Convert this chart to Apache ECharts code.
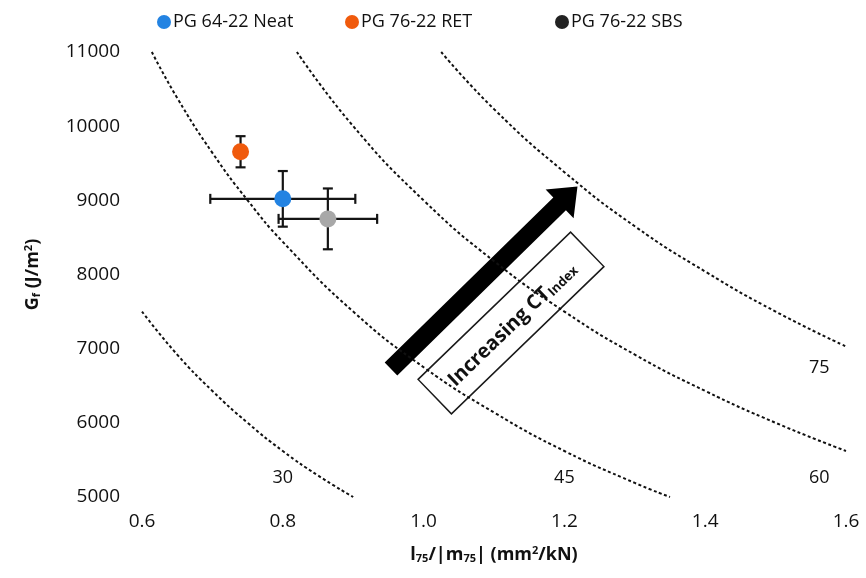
<!DOCTYPE html>
<html>
<head>
<meta charset="utf-8">
<script src="https://cdn.jsdelivr.net/npm/echarts@6/dist/echarts.min.js"></script>
<style>html,body{margin:0;padding:0;background:#fff}#c{width:866px;height:578px}</style>
</head>
<body>
<div id="c"></div>
<script>
// ---- data ----
const materials = ['PG 64-22 Neat', 'PG 76-22 RET', 'PG 76-22 SBS'];
const colors = ['#2383e2', '#f05a0c', '#a8a8a8'];
const legendIconColors = ['#2383e2', '#f05a0c', '#222222'];
const xMean = [0.800, 0.740, 0.864];
const yMean = [9020, 9655, 8750];
const xErr = [0.103, 0, 0.070];
const yErr = [375, 210, 410];

const yTicks = [5000, 6000, 7000, 8000, 9000, 10000, 11000];
const xTicks = [0.6, 0.8, 1.0, 1.2, 1.4, 1.6];

// CT-index contour curves
const curve30 = [[0.60, 7500], [0.65, 6920], [0.70, 6430], [0.75, 6000], [0.80, 5620], [0.85, 5290], [0.90, 5000]];
const curve45 = [[0.614, 11000], [0.65, 10380], [0.70, 9640], [0.75, 9000], [0.80, 8440], [0.90, 7500], [1.00, 6750], [1.10, 6140], [1.20, 5620], [1.30, 5190], [1.35, 5000]];
const curve60 = [[0.82, 11000], [0.90, 10000], [1.00, 9000], [1.10, 8180], [1.20, 7500], [1.30, 6920], [1.40, 6430], [1.50, 6000], [1.60, 5620]];
const curve75 = [[1.025, 11000], [1.10, 10230], [1.20, 9380], [1.30, 8650], [1.40, 8040], [1.50, 7500], [1.60, 7030]];
const curveLabels = ['30', '45', '60', '75'];
const curveLabelPos = [[0.80, 5260], [1.20, 5260], [1.562, 5260], [1.562, 6740]];

const FONT = '"Open Sans", "Liberation Sans", sans-serif';

const chart = echarts.init(document.getElementById('c'), null, {renderer: 'canvas'});

const series = [];
[curve30, curve45, curve60, curve75].forEach((c, i) => {
  series.push({
    type: 'line', name: 'ct' + curveLabels[i], data: c, smooth: true, showSymbol: false, silent: true,
    lineStyle: {color: '#111', width: 2, type: [3, 2.5]}, z: 1
  });
});
series.push({
  type: 'scatter', name: 'curveLabels', silent: true, symbolSize: 0,
  itemStyle: {opacity: 1, color: 'rgba(0,0,0,0)'},
  data: curveLabelPos.map((p, i) => ({value: p, name: curveLabels[i]})),
  label: {show: true, position: 'inside', formatter: p => p.name, fontSize: 18, color: '#111', fontFamily: FONT},
  z: 2
});
series.push({
  type: 'custom', name: 'errorbars', silent: true, z: 3,
  data: materials.map((m, i) => [xMean[i], yMean[i], xErr[i], yErr[i]]),
  encode: {x: 0, y: 1},
  renderItem: function (params, api) {
    const x = api.value(0), y = api.value(1), ex = api.value(2), ey = api.value(3);
    const st = {stroke: '#141414', lineWidth: 2.2};
    const cap = 5;
    const ch = [];
    if (ey > 0) {
      const t = api.coord([x, y + ey]), b = api.coord([x, y - ey]);
      ch.push({type: 'line', shape: {x1: t[0], y1: t[1], x2: b[0], y2: b[1]}, style: st});
      ch.push({type: 'line', shape: {x1: t[0] - cap, y1: t[1], x2: t[0] + cap, y2: t[1]}, style: st});
      ch.push({type: 'line', shape: {x1: b[0] - cap, y1: b[1], x2: b[0] + cap, y2: b[1]}, style: st});
    }
    if (ex > 0) {
      const l = api.coord([x - ex, y]), r = api.coord([x + ex, y]);
      ch.push({type: 'line', shape: {x1: l[0], y1: l[1], x2: r[0], y2: r[1]}, style: st});
      ch.push({type: 'line', shape: {x1: l[0], y1: l[1] - cap, x2: l[0], y2: l[1] + cap}, style: st});
      ch.push({type: 'line', shape: {x1: r[0], y1: r[1] - cap, x2: r[0], y2: r[1] + cap}, style: st});
    }
    return {type: 'group', children: ch};
  }
});
materials.forEach((m, i) => {
  series.push({
    type: 'scatter', name: m, data: [[xMean[i], yMean[i]]], symbol: 'circle', symbolSize: 17,
    itemStyle: {color: colors[i], opacity: 1}, z: 4
  });
});

const legendLefts = [152, 340, 550];
const legends = materials.map((m, i) => ({
  left: legendLefts[i], top: 8, itemWidth: 14, itemHeight: 14, itemGap: 0,
  icon: 'circle', selectedMode: false,
  data: [{name: m, itemStyle: {color: legendIconColors[i]}}],
  textStyle: {fontSize: 18, color: '#111', fontFamily: FONT, padding: [0, 0, 0, -3]}
}));

const arrowAngle = 44.4 * Math.PI / 180;
const boxAngle = 44.0 * Math.PI / 180;

chart.setOption({
  animation: false,
  backgroundColor: '#ffffff',
  legend: legends,
  grid: {left: 142, right: 20, top: 52, bottom: 81},
  xAxis: {
    type: 'value', min: 0.6, max: 1.6, interval: 0.2,
    axisLine: {show: false}, axisTick: {show: false}, splitLine: {show: false},
    axisLabel: {margin: 15, fontSize: 19, color: '#111', fontFamily: FONT,
      formatter: v => { const t = xTicks.find(k => Math.abs(k - v) < 1e-6); return t !== undefined ? t.toFixed(1) : ''; }},
    name: '{n|l}{s|75}{n|/|m}{s|75}{n|| (mm}{p|2}{n|/kN)}',
    nameLocation: 'middle', nameGap: 48,
    nameTextStyle: {
      rich: {
        n: {fontSize: 18, fontWeight: 'bold', color: '#111', fontFamily: FONT},
        s: {fontSize: 11, fontWeight: 'bold', color: '#111', fontFamily: FONT, verticalAlign: 'bottom', padding: [8, 0, 0, 0]},
        p: {fontSize: 11, fontWeight: 'bold', color: '#111', fontFamily: FONT, verticalAlign: 'top', padding: [0, 0, 8, 0]}
      }
    }
  },
  yAxis: {
    type: 'value', min: 5000, max: 11000, interval: 1000,
    axisLine: {show: false}, axisTick: {show: false}, splitLine: {show: false},
    axisLabel: {margin: 22, fontSize: 19, color: '#111', fontFamily: FONT,
      formatter: v => yTicks.includes(v) ? String(v) : ''},
    name: '{n|G}{s|f}{n| (J/m}{p|2}{n|)}',
    nameLocation: 'middle', nameGap: 100, nameRotate: 90,
    nameTextStyle: {
      rich: {
        n: {fontSize: 18, fontWeight: 'bold', color: '#111', fontFamily: FONT},
        s: {fontSize: 11, fontWeight: 'bold', color: '#111', fontFamily: FONT, verticalAlign: 'bottom', padding: [8, 0, 0, 0]},
        p: {fontSize: 11, fontWeight: 'bold', color: '#111', fontFamily: FONT, verticalAlign: 'top', padding: [0, 0, 8, 0]}
      }
    }
  },
  graphic: [
    {
      type: 'group', x: 391, y: 369, rotation: arrowAngle, z: 10,
      children: [{
        type: 'polygon',
        shape: {points: [[0, -9], [236, -9], [236, -20], [261, 0], [236, 20], [236, 9], [0, 9]]},
        style: {fill: '#000'}
      }]
    },
    {
      type: 'group', x: 511, y: 323, rotation: boxAngle, z: 10,
      children: [
        {type: 'rect', shape: {x: -106, y: -24, width: 212, height: 48},
          style: {fill: '#fff', stroke: '#1a1a1a', lineWidth: 1.5}},
        {type: 'text', x: 0, y: 2,
          style: {
            text: '{a|Increasing CT}{b|Index}', align: 'center', verticalAlign: 'middle',
            rich: {
              a: {fontSize: 20, fontWeight: 'bold', fill: '#111', fontFamily: FONT},
              b: {fontSize: 13, fontWeight: 'bold', fill: '#111', fontFamily: FONT, verticalAlign: 'bottom', padding: [9, 0, 0, 0]}
            }
          }}
      ]
    }
  ],
  series: series
});
</script>
</body>
</html>
